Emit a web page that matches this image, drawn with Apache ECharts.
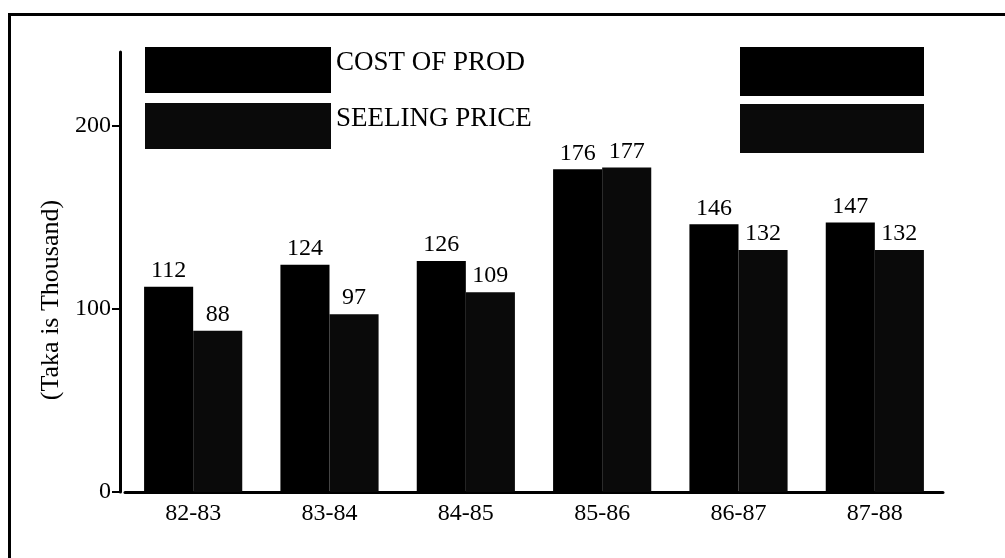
<!DOCTYPE html>
<html>
<head>
<meta charset="utf-8">
<script src="https://cdn.jsdelivr.net/npm/echarts@6/dist/echarts.min.js"></script>
<style>
html,body{margin:0;padding:0;background:#fff;}
#chart{width:1005px;height:558px;}
</style>
</head>
<body>
<div id="chart"></div>
<script>
const categories = ['82-83', '83-84', '84-85', '85-86', '86-87', '87-88'];
const costOfProd = [112, 124, 126, 176, 146, 147];
const sellingPrice = [88, 97, 109, 177, 132, 132];
const yTicks = [0, 100, 200];
const seriesNames = ['COST OF PROD', 'SEELING PRICE'];

const serif = 'Liberation Serif, Times New Roman, serif';
const chart = echarts.init(document.getElementById('chart'));
chart.setOption({
  backgroundColor: '#fff',
  animation: false,
  textStyle: { fontFamily: serif, color: '#000' },
  graphic: [{
    type: 'rect', left: 7, top: 12, silent: true,
    shape: { width: 1100, height: 700 },
    style: { fill: 'none', stroke: '#000', lineWidth: 3 }
  }],
  legend: [{
    data: seriesNames, orient: 'vertical', left: 145, top: 47, padding: 0,
    icon: 'rect', itemWidth: 186, itemHeight: 46, itemGap: 10,
    formatter: '{a|{name}}',
    textStyle: {
      fontFamily: serif, fontSize: 27, color: '#000',
      rich: { a: { fontFamily: serif, fontSize: 27, color: '#000', padding: [0, 0, 14, 0] } }
    }
  }, {
    data: seriesNames, orient: 'vertical', left: 740, top: 47, padding: 0,
    icon: 'rect', itemWidth: 184, itemHeight: 49, itemGap: 8,
    formatter: () => '', selectedMode: false
  }],
  grid: { left: 125, right: 62, top: 52, bottom: 66, containLabel: false },
  xAxis: {
    type: 'category', data: categories,
    axisLine: { lineStyle: { color: '#000', width: 3 } },
    axisTick: { show: false },
    axisLabel: { fontFamily: serif, fontSize: 24, color: '#000', margin: 10 }
  },
  yAxis: {
    type: 'value', min: 0, max: 240, interval: 100, offset: 5,
    name: '(Taka is Thousand)', nameLocation: 'middle', nameRotate: 90, nameGap: 56,
    nameTextStyle: { fontFamily: serif, fontSize: 26, color: '#000', padding: [0, 56, 0, 0] },
    axisLine: { show: true, lineStyle: { color: '#000', width: 3 } },
    axisTick: { show: true, length: 8, customValues: yTicks, lineStyle: { color: '#000', width: 2 } },
    axisLabel: { fontFamily: serif, fontSize: 24, color: '#000', margin: 9, customValues: yTicks },
    splitLine: { show: false }
  },
  series: [{
    name: seriesNames[0], type: 'bar', data: costOfProd,
    barGap: '0%', barCategoryGap: '28%',
    itemStyle: { color: '#000' },
    label: { show: true, position: 'top', fontFamily: serif, fontSize: 24, color: '#000', distance: 4 }
  }, {
    name: seriesNames[1], type: 'bar', data: sellingPrice,
    itemStyle: { color: '#0a0a0a' },
    label: { show: true, position: 'top', fontFamily: serif, fontSize: 24, color: '#000', distance: 4 }
  }]
});
</script>
</body>
</html>
